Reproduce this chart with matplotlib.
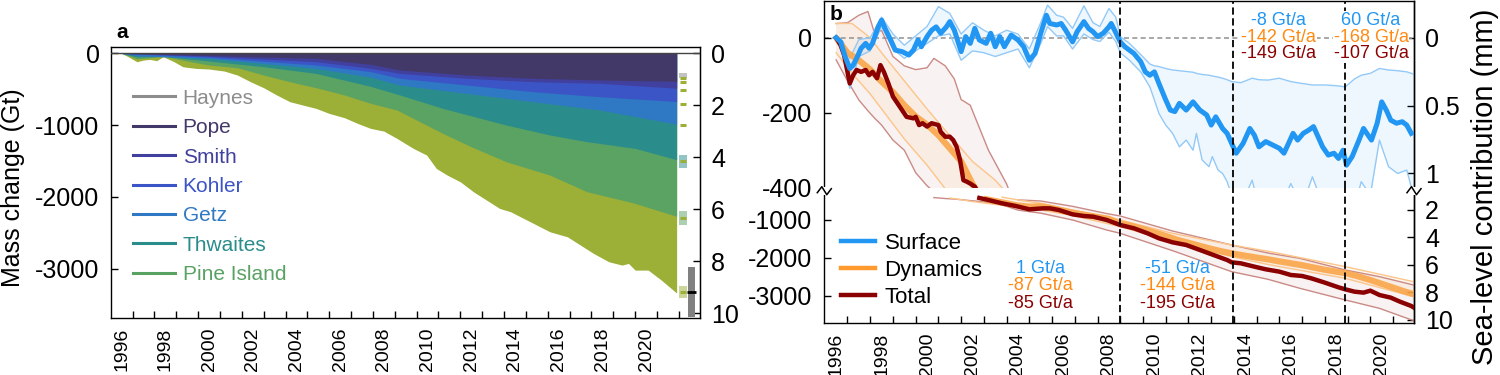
import numpy as np
import matplotlib
matplotlib.use("Agg")
import matplotlib.pyplot as plt
from matplotlib.lines import Line2D
from matplotlib.patches import Rectangle

plt.rcParams['font.family'] = ['Liberation Sans', 'DejaVu Sans']
plt.rcParams['axes.unicode_minus'] = False

GT_PER_MM = 362.0

# ------------------------------------------------------------------ panel a data
basin_names = ['Haynes', 'Pope', 'Smith', 'Kohler', 'Getz', 'Thwaites', 'Pine Island']
basin_colors = ['#8c8c8c', '#433969', '#41409e', '#3c55c6', '#2f78c4', '#2a8d8c', '#5aa264']
other_color = '#9caf37'

# cumulative mass change (Gt) down to the lower edge of each layer
cum_pope_years = [1996.0, 2000.0, 2004.9, 2007.4, 2008.74, 2011.8, 2014.85, 2017.9, 2021.4]
cum_pope = [0, -30, -70, -153, -232, -302, -348, -371, -389]
cum_smith_years = [1996.0, 2000.0, 2004.9, 2007.4, 2008.74, 2011.8, 2014.85, 2017.9, 2021.4]
cum_smith = [0, -40, -116, -209, -279, -348, -395, -418, -485]
cum_kohler_years = [1996.0, 2000.0, 2004.9, 2007.4, 2008.74, 2011.8, 2014.85, 2017.9, 2021.4]
cum_kohler = [0, -55, -163, -255, -348, -441, -534, -604, -670]
cum_getz_years = [1996.0, 1996.7, 2000.0, 2004.9, 2007.4, 2008.74, 2011.8, 2014.85, 2017.9, 2021.4]
cum_getz = [0, -35, -70, -209, -330, -441, -557, -673, -789, -985]
cum_thw_years = [1996.0, 1996.7, 1998.0, 2000.0, 2002.5, 2004.9, 2007.4, 2008.74, 2010.7,
                 2013.6, 2015.6, 2017.3, 2019.5, 2021.4]
cum_thw = [0, -50, -45, -107, -186, -279, -460, -580, -766, -998, -1137, -1230, -1323, -1480]
cum_pine_years = [1996.0, 1996.7, 1997.3, 1997.9, 1998.4, 1999.4, 2000.0, 2001.3, 2002.5, 2003.7,
                  2004.9, 2006.2, 2007.4, 2008.6, 2009.2, 2010.7, 2012.0, 2013.6, 2015.6, 2017.3,
                  2018.7, 2019.5, 2021.4]
cum_pine = [0, -75, -60, -35, -70, -130, -162, -200, -302, -395,
            -478, -580, -696, -789, -882, -1114, -1300, -1509, -1695, -1927,
            -2029, -2089, -2269]
cum_total_years = [1996.0, 1996.3, 1996.7, 1997.0, 1997.3, 1997.6, 1997.9, 1998.4, 1998.8, 1999.4,
                   2000.0, 2000.7, 2001.3, 2001.9, 2002.5, 2003.1, 2003.7, 2004.3, 2004.9, 2005.5,
                   2006.2, 2006.8, 2007.4, 2008.0, 2008.6, 2009.35, 2009.96, 2010.4, 2010.9, 2011.5,
                   2012.1, 2012.7, 2013.3, 2013.8, 2014.4, 2015.0, 2015.6, 2016.4, 2017.0, 2017.6,
                   2018.3, 2018.9, 2019.2, 2019.5, 2020.1, 2020.7, 2021.4]
cum_total = [0, -46, -116, -93, -84, -102, -46, -116, -186, -209,
             -218, -246, -302, -395, -478, -580, -673, -720, -766, -836,
             -896, -975, -1045, -1082, -1184, -1323, -1416, -1602, -1695, -1788,
             -1927, -2043, -2159, -2205, -2298, -2391, -2484, -2554, -2670, -2786,
             -2902, -2948, -2925, -3018, -3018, -3157, -3337]

# end-of-record markers and uncertainty boxes
end_marker_vals = [-343, -402, -514, -705, -1001, -1503, -2292, -3327]
end_box_centers = [-308, -1503, -2292, -3327]
end_box_half = [35, 88, 95, 86]
end_box_colors = ['#bdbdbd', '#2a8d8c', '#5aa264', '#9caf37']
total_end_val = -3327
total_end_unc = 350

# ------------------------------------------------------------------ panel b data
surf_years = [1996.0, 1996.2, 1996.4, 1996.6, 1996.75, 1996.9, 1997.1, 1997.3, 1997.45, 1997.6,
              1997.85, 1998.0, 1998.15, 1998.4, 1998.6, 1998.9, 1999.2, 1999.4, 1999.6, 1999.75,
              2000.0, 2000.2, 2000.4, 2000.6, 2000.85, 2001.0, 2001.2, 2001.5, 2001.7, 2001.9,
              2002.1, 2002.3, 2002.6, 2002.8, 2003.0, 2003.2, 2003.4, 2003.7, 2004.0, 2004.25,
              2004.5, 2004.75, 2005.0, 2005.25, 2005.4, 2005.7, 2005.9, 2006.1, 2006.4, 2006.6,
              2006.9, 2007.1, 2007.3, 2007.5, 2007.75, 2008.0, 2008.1, 2008.25, 2008.5, 2008.7,
              2008.9, 2009.1, 2009.4, 2009.6, 2009.8, 2010.0, 2010.2, 2010.5, 2010.7, 2010.9,
              2011.1, 2011.4, 2011.7, 2012.0, 2012.3, 2012.5, 2012.7, 2013.0, 2013.2, 2013.4,
              2013.6, 2013.9, 2014.2, 2014.4, 2014.6, 2014.9, 2015.2, 2015.5, 2015.7, 2015.9,
              2016.1, 2016.3, 2016.55, 2016.8, 2017.0, 2017.2, 2017.4, 2017.65, 2017.9, 2018.1,
              2018.3, 2018.45, 2018.7, 2019.0, 2019.2, 2019.4, 2019.55, 2019.8, 2020.0, 2020.2,
              2020.4, 2020.65, 2020.9, 2021.1, 2021.3]
surf_mass = [0, -11, -51, -82, -73, -55, -28, -15, -28, -15,
             29, 47, 25, -6, -33, -37, -46, -33, -6, -24,
             3, 20, 29, 12, 29, 43, 20, -37, 3, -15,
             25, -6, -15, 12, -24, 3, -24, 7, -6, -24,
             -60, -42, 12, 60, 38, 34, 38, 20, -11, 16,
             43, 25, 16, 3, 12, 29, 38, 20, -11, -24,
             -33, -42, -64, -91, -100, -91, -122, -166, -193, -197,
             -175, -193, -171, -193, -206, -233, -211, -242, -255, -282,
             -308, -282, -242, -260, -291, -277, -286, -295, -308, -282,
             -255, -273, -255, -246, -237, -264, -291, -313, -308, -322,
             -300, -340, -317, -273, -242, -260, -273, -228, -171, -193,
             -220, -228, -224, -233, -255]

surf_band_years = [1996.0, 1996.3, 1996.6, 1997.0, 1997.5, 1998.0, 1998.5, 1999.0, 1999.5, 2000.0,
                   2000.5, 2001.0, 2001.5, 2002.0, 2002.5, 2003.0, 2003.5, 2004.0, 2004.5, 2005.0,
                   2005.3, 2005.7, 2006.0, 2006.4, 2006.9, 2007.3, 2007.6, 2008.0, 2008.3, 2008.5,
                   2008.9, 2009.4, 2009.8, 2010.0, 2010.2, 2010.5, 2010.8, 2011.1, 2011.4, 2011.7,
                   2011.85, 2012.1, 2012.4, 2012.55, 2012.8, 2013.0, 2013.2, 2013.4, 2013.8, 2014.3,
                   2014.6, 2015.0, 2015.5, 2016.0, 2016.5, 2016.95, 2017.5, 2018.0, 2018.4, 2018.8,
                   2019.1, 2019.5, 2019.9, 2020.3, 2020.7, 2021.1, 2021.4]
surf_upper = [0, -10, -55, -5, 0, 55, 10, -20, 5, 30,
              83, 65, 10, 40, 20, 5, 20, 10, -30, 40,
              87, 60, 55, 25, 85, 40, 30, 78, 55, 3,
              -15, -45, -70, -75, -77, -82, -86, -88, -90, -92,
              -95, -98, -100, -102, -105, -108, -112, -117, -120, -108,
              -112, -113, -108, -117, -122, -126, -126, -128, -131, -110,
              -100, -95, -82, -86, -88, -91, -97]
surf_lower = [0, -45, -135, -50, -35, 30, -30, -55, -35, -15,
              5, 10, -60, -35, -40, -50, -40, -30, -80, -15,
              30, 5, 5, -30, 10, -5, -10, 15, -10, -40,
              -60, -91, -131, -166, -202, -233, -255, -291, -273, -300,
              -255, -326, -344, -317, -353, -362, -384, -420, -450, -380,
              -450, -440, -460, -389, -450, -371, -460, -470, -460, -450,
              -384, -420, -273, -344, -362, -353, -420]

dyn_years = [1996.0, 1996.5, 1997.0, 1997.5, 1998.0, 1998.5, 1999.0, 1999.5, 2000.0, 2000.5,
             2001.0, 2001.5, 2002.0, 2002.5, 2003.0, 2003.5, 2004.0, 2004.5, 2005.0, 2005.5,
             2006.0, 2006.5, 2007.0, 2007.5, 2008.0, 2008.5, 2009.0, 2009.5, 2010.0, 2010.5,
             2011.0, 2011.5, 2012.0, 2012.5, 2013.0, 2013.5, 2014.0, 2014.5, 2015.0, 2015.5,
             2016.0, 2016.5, 2017.0, 2017.5, 2018.0, 2018.5, 2019.0, 2019.5, 2020.0, 2020.5,
             2021.0, 2021.4]
dyn_mass = [0, -40, -60, -85, -117, -145, -180, -210, -232, -260,
            -295, -330, -390, -440, -500, -560, -620, -650, -640, -690,
            -760, -820, -870, -920, -970, -1090, -1160, -1240, -1330, -1420,
            -1520, -1600, -1680, -1760, -1830, -1890, -1940, -1990, -2035, -2090,
            -2140, -2190, -2250, -2310, -2360, -2410, -2490, -2580, -2680, -2780,
            -2880, -2950]
dyn_band_years = [1996.0, 1996.7, 1997.5, 1998.0, 1999.0, 2000.0, 2000.7, 2001.0, 2002.0, 2003.0,
                  2003.3, 2004.0, 2005.0, 2006.4, 2008.5, 2010.8, 2013.4, 2015.1, 2018.4, 2021.4]
dyn_upper = [38, 38, 0, -40, -115, -190, -240, -260, -330, -380,
             -400, -470, -560, -737, -1000, -1351, -1658, -1833, -2228, -2623]
dyn_lower = [-40, -95, -150, -190, -270, -340, -395, -420, -515, -590,
             -610, -650, -737, -880, -1175, -1570, -1965, -2184, -2535, -3018]

tot_years = [1996.0, 1996.2, 1996.35, 1996.5, 1996.6, 1996.75, 1996.9, 1997.1, 1997.3, 1997.45,
             1997.6, 1997.8, 1997.95, 1998.1, 1998.3, 1998.5, 1998.7, 1998.9, 1999.1, 1999.4,
             1999.5, 1999.65, 1999.8, 2000.0, 2000.2, 2000.5, 2000.6, 2000.8, 2001.0, 2001.15,
             2001.3, 2001.45, 2001.6, 2001.75, 2001.9, 2002.1, 2002.3, 2002.7, 2003.3, 2003.9,
             2004.5, 2005.1, 2005.4, 2005.8, 2006.4, 2006.9, 2007.3, 2007.9, 2008.5, 2009.1,
             2009.7, 2010.2, 2010.8, 2011.4, 2012.0, 2012.6, 2013.2, 2013.4, 2013.8, 2014.4,
             2014.9, 2015.5, 2016.0, 2016.5, 2016.9, 2017.5, 2018.1, 2018.4, 2018.8, 2019.2,
             2019.5, 2019.9, 2020.4, 2020.8, 2021.3, 2021.4]
tot_mass = [0, -20, -46, -91, -122, -100, -86, -91, -86, -100,
            -91, -108, -73, -91, -122, -157, -175, -193, -211, -215,
            -211, -233, -228, -237, -228, -233, -251, -264, -264, -273,
            -291, -326, -380, -384, -389, -397, -420, -474, -561, -632,
            -719, -693, -693, -737, -851, -895, -912, -1000, -1132, -1219,
            -1351, -1482, -1588, -1658, -1789, -1921, -2053, -2114, -2140, -2228,
            -2298, -2360, -2447, -2474, -2535, -2649, -2772, -2825, -2886, -2912,
            -2860, -2974, -3044, -3149, -3263, -3300]
tot_band_years = [1996.0, 1996.5, 1997.0, 1997.4, 1997.7, 1998.0, 1998.5, 1999.0, 1999.5, 2000.0,
                  2000.3, 2000.8, 2001.2, 2001.5, 2001.9, 2002.3, 2002.7, 2003.1, 2003.5, 2004.0,
                  2005.0, 2006.4, 2007.9, 2008.5, 2010.8, 2013.4, 2015.0, 2016.4, 2018.4, 2019.9,
                  2021.4]
tot_upper = [38, 40, 60, 70, 10, 20, -50, -75, -85, -80,
             -55, -75, -110, -165, -180, -240, -300, -345, -390, -470,
             -500, -640, -830, -895, -1290, -1658, -1870, -2009, -2316, -2491,
             -2711]
tot_lower = [-59, -115, -166, -195, -215, -233, -273, -300, -360, -395,
             -410, -435, -450, -465, -490, -510, -540, -580, -640, -740,
             -820, -1000, -1263, -1351, -1807, -2360, -2561, -2798, -3105, -3325,
             -3649]

period_breaks = [2008.5, 2013.45, 2018.4]
rate_surface = ['1 Gt/a', '-51 Gt/a', '-8 Gt/a', '60 Gt/a']
rate_dynamics = ['-87 Gt/a', '-144 Gt/a', '-142 Gt/a', '-168 Gt/a']
rate_total = ['-85 Gt/a', '-195 Gt/a', '-149 Gt/a', '-107 Gt/a']

C_SURF = '#2196f3'
C_DYN = '#f9a64a'
C_DYN_TXT = '#ff8a12'
C_TOT = '#8b0000'

# ------------------------------------------------------------------ figure
W, H = 1500, 375
fig = plt.figure(figsize=(15, 3.75), dpi=100)


def fx(px):
    return px / W


def fy(py):
    return 1 - py / H


YT = 18      # y tick label size
XT = 14      # x tick label size

# ---------------- panel a
ax_a = fig.add_axes([fx(110.7), fy(318), fx(700) - fx(110.7), fy(46.7) - fy(318)])
ax_a.set_xlim(1995.5, 2022.47)
ax_a.set_ylim(-3685, 93)

layers = [(cum_total_years, cum_total, other_color),
          (cum_pine_years, cum_pine, '#5ba363'),
          (cum_thw_years, cum_thw, basin_colors[5]),
          (cum_getz_years, cum_getz, basin_colors[4]),
          (cum_kohler_years, cum_kohler, basin_colors[3]),
          (cum_smith_years, cum_smith, basin_colors[2]),
          (cum_pope_years, cum_pope, basin_colors[1])]
for yrs, vals, col in layers:
    ax_a.fill_between(yrs, 0, vals, color=col, lw=0, zorder=2)
ax_a.axhline(0, color='#444444', lw=1.0, zorder=3)

xm = 2021.7
for c, h, col in zip(end_box_centers, end_box_half, end_box_colors):
    a = 0.9 if col == '#bdbdbd' else 0.5
    ax_a.add_patch(Rectangle((xm - 0.17, c - h), 0.34, 2 * h, facecolor=col, alpha=a,
                             edgecolor='none', zorder=3))
ax_a.hlines(end_marker_vals, xm - 0.14, xm + 0.14, color=other_color, lw=2.2, zorder=4)
ax_a.add_patch(Rectangle((2021.94, total_end_val - total_end_unc), 0.31, 2 * total_end_unc,
                         facecolor='#808080', edgecolor='none', zorder=3))
ax_a.hlines([total_end_val], 2021.86, 2022.28, color='black', lw=2.0, zorder=4)

ax_a.set_yticks([0, -1000, -2000, -3000])
ax_a.set_xticks(range(1996, 2021, 2))
ax_a.set_xticks(np.arange(1996.5, 2022, 1), minor=True)
ax_a.tick_params(axis='x', which='major', length=0, labelrotation=90, labelsize=XT, pad=7)
ax_a.tick_params(axis='x', which='minor', direction='in', length=5, width=1)
ax_a.tick_params(axis='y', direction='in', length=5, width=1, labelsize=YT, pad=8)
ax_a.set_ylabel('Mass change (Gt)', fontsize=18)
ax_a.yaxis.set_label_coords(-0.1454, 0.479)
for s in ax_a.spines.values():
    s.set_linewidth(1.0)

sa = ax_a.secondary_yaxis('right', functions=(lambda g: -np.asarray(g) / GT_PER_MM,
                                               lambda m: -np.asarray(m) * GT_PER_MM))
sa.set_yticks([0, 2, 4, 6, 8, 10])
sa.tick_params(direction='in', length=5, width=1, labelsize=YT, pad=8)

handles_a = [Line2D([], [], color=c, lw=2.2) for c in basin_colors]
ax_a.legend(handles_a, basin_names, loc='upper left', bbox_to_anchor=(fx(132.7), fy(88.7)),
            bbox_transform=fig.transFigure, frameon=False, fontsize=15, labelcolor='linecolor',
            handlelength=2.03, handletextpad=0.37, labelspacing=0.5, borderpad=0,
            borderaxespad=0)
fig.text(fx(121.7), fy(33), 'a', fontsize=15, fontweight='bold', ha='center', va='center')

# ---------------- panel b
bl, br = 824.3, 1414
ax_t = fig.add_axes([fx(bl), fy(187.7), fx(br) - fx(bl), fy(1) - fy(187.7)])
ax_b = fig.add_axes([fx(bl), fy(322.7), fx(br) - fx(bl), fy(187.7) - fy(322.7)])
for ax in (ax_t, ax_b):
    ax.set_xlim(1995.48, 2021.42)
ax_t.set_ylim(-400, 98)
ax_b.set_ylim(-3703, -150)


def prep(v, mask):
    v = np.asarray(v, float)
    return np.where(v > -400, np.nan, v) if mask else v


for ax, mask in ((ax_t, False), (ax_b, True)):
    ax.fill_between(tot_band_years, prep(tot_lower, mask), prep(tot_upper, mask),
                    color=C_TOT, alpha=0.05, lw=0, zorder=1)
    ax.fill_between(dyn_band_years, prep(dyn_lower, mask), prep(dyn_upper, mask),
                    color='#ff8c00', alpha=0.06, lw=0, zorder=1)
    for b in (tot_upper, tot_lower):
        ax.plot(tot_band_years, prep(b, mask), color='#c47f7a', lw=1.0, alpha=0.9, zorder=2)
    for b in (dyn_upper, dyn_lower):
        ax.plot(dyn_band_years, prep(b, mask), color='#fcc58a', lw=1.0, zorder=2)
    ax.plot(dyn_years, prep(dyn_mass, mask), color=C_DYN, lw=4.5, alpha=0.9, zorder=3,
            solid_capstyle='butt')
    ax.plot(tot_years, prep(tot_mass, mask), color=C_TOT, lw=3.2, zorder=4)
    for xb in period_breaks:
        ax.axvline(xb, color='black', lw=1.3, ls=(0, (4, 2)), zorder=6)

ax_t.fill_between(surf_band_years, surf_lower, surf_upper, color=C_SURF, alpha=0.07, lw=0, zorder=1)
for b in (surf_upper, surf_lower):
    ax_t.plot(surf_band_years, b, color='#93c9f7', lw=1.0, zorder=2)
ax_t.axhline(0, color='#9a9a9a', lw=1.2, ls=(0, (3, 2)), zorder=1.5)
ax_t.plot(surf_years, surf_mass, color=C_SURF, lw=3.6, zorder=5)

# spines / ticks
ax_t.spines['bottom'].set_visible(False)
ax_b.spines['top'].set_visible(False)
for ax in (ax_t, ax_b):
    for s in ax.spines.values():
        s.set_linewidth(1.0)
ax_t.set_xticks([])
ax_t.set_yticks([-400, -200, 0])
ax_t.tick_params(axis='y', direction='in', length=5, width=1, labelsize=YT, pad=9)
ax_t.yaxis.get_major_ticks()[0].tick1line.set_visible(False)
ax_b.set_yticks([-3000, -2000, -1000])
ax_b.tick_params(axis='y', direction='in', length=5, width=1, labelsize=YT, pad=9)
ax_b.set_xticks(range(1996, 2021, 2))
ax_b.set_xticks(np.arange(1996.5, 2021, 1), minor=True)
ax_b.tick_params(axis='x', which='major', length=0, labelrotation=90, labelsize=XT, pad=7)
ax_b.tick_params(axis='x', which='minor', direction='in', length=5, width=1)

g2mm = (lambda g: -np.asarray(g) / GT_PER_MM, lambda m: -np.asarray(m) * GT_PER_MM)
st = ax_t.secondary_yaxis('right', functions=g2mm)
st.set_yticks([0, 0.5, 1], labels=['0', '0.5', '1'])
st.tick_params(direction='in', length=5, width=1, labelsize=YT, pad=8)
sb = ax_b.secondary_yaxis('right', functions=g2mm)
sb.set_yticks([2, 4, 6, 8, 10], labels=['2', '4', '6', '8', '10'])
sb.tick_params(direction='in', length=5, width=1, labelsize=YT, pad=8)
for s in (st, sb):
    for sp in s.spines.values():
        sp.set_linewidth(1.0)

fig.text(fx(1485), fy(187), 'Sea-level contribution (mm)', rotation=90, fontsize=21,
         ha='center', va='center')
fig.text(fx(836), fy(15), 'b', fontsize=15, fontweight='bold', ha='center', va='center')

# break marks
for xpx in (bl, br):
    y0 = H - 190.7
    xs = [xpx - 7, xpx - 2.5, xpx + 2.5, xpx + 7]
    ys = [y0 - 2, y0 + 4, y0 - 4, y0 + 2]
    fig.add_artist(Rectangle((fx(xpx - 1.5), (y0 - 4) / H), 3 / W, 8 / H, facecolor='white',
                             edgecolor='none', transform=fig.transFigure, zorder=9))
    fig.add_artist(Line2D([x / W for x in xs], [y / H for y in ys], color='black', lw=1.1,
                          transform=fig.transFigure, zorder=10))

# rate annotations
fs_rate = 13
bottom_x = [2004.97, 2011.0]
top_x = [2015.47, 2019.53]
for i, x in enumerate(bottom_x):
    for txt, col, yv in ((rate_surface[i], C_SURF, -2271), (rate_dynamics[i], C_DYN_TXT, -2737),
                         (rate_total[i], C_TOT, -3192)):
        ax_b.text(x, yv, txt, color=col, fontsize=fs_rate, ha='center', va='center', zorder=8)
for j, x in enumerate(top_x):
    i = j + 2
    for txt, col, yv in ((rate_surface[i], C_SURF, 45), (rate_dynamics[i], C_DYN_TXT, 1),
                         (rate_total[i], C_TOT, -43)):
        ax_t.text(x, yv, txt, color=col, fontsize=fs_rate, ha='center', va='center', zorder=8,
                  bbox=dict(facecolor='white', edgecolor='none', pad=0.6))

handles_b = [Line2D([], [], color=C_SURF, lw=3.2), Line2D([], [], color='#ff9a2e', lw=3.2),
             Line2D([], [], color=C_TOT, lw=3.2)]
ax_b.legend(handles_b, ['Surface', 'Dynamics', 'Total'], loc='upper left',
            bbox_to_anchor=(fx(840.7), fy(232.8)), bbox_transform=fig.transFigure,
            frameon=False, fontsize=16, handlelength=1.55, handletextpad=0.42,
            labelspacing=0.27, borderpad=0, borderaxespad=0)

fig.savefig('out.png', dpi=100)
